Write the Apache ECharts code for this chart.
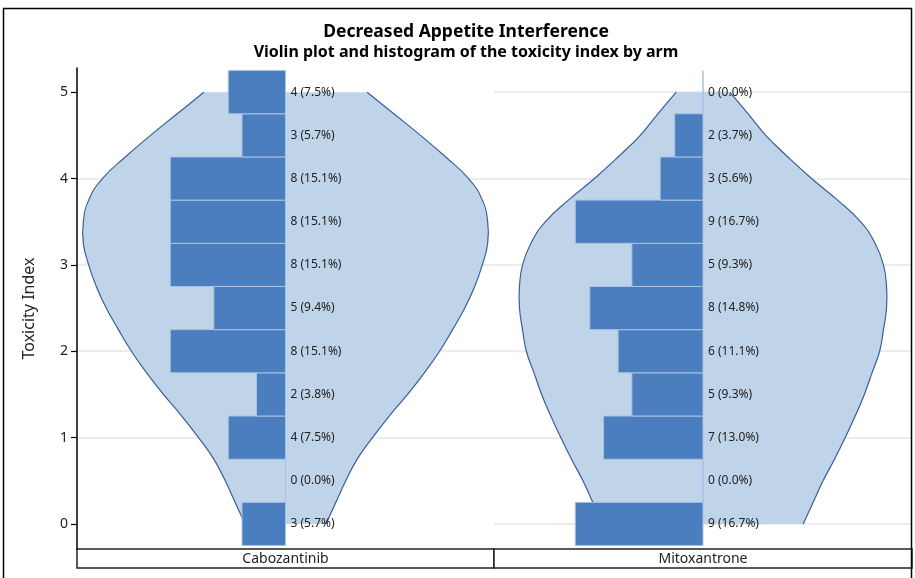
<!DOCTYPE html>
<html>
<head>
<meta charset="utf-8">
<title>Decreased Appetite Interference</title>
<script src="https://cdn.jsdelivr.net/npm/echarts@6/dist/echarts.min.js"></script>
<style>
    html,body{margin:0;padding:0;background:#fff;}
    #main{width:915px;height:578px;}
</style>
</head>
<body>
<div id="main"></div>
<script>
// histogram bins (toxicity index) and counts / percents per arm
var binLevels = [0, 0.5, 1, 1.5, 2, 2.5, 3, 3.5, 4, 4.5, 5];
var cabCounts = [3, 0, 4, 2, 8, 5, 8, 8, 8, 3, 4];
var cabPct    = [5.7, 0.0, 7.5, 3.8, 15.1, 9.4, 15.1, 15.1, 15.1, 5.7, 7.5];
var mitCounts = [9, 0, 7, 5, 6, 8, 5, 9, 3, 2, 0];
var mitPct    = [16.7, 0.0, 13.0, 9.3, 11.1, 14.8, 9.3, 16.7, 5.6, 3.7, 0.0];

// violin half-widths (same units as percent)
var violinLevels = [0, 0.25, 0.5, 0.75, 1, 1.25, 1.5, 1.75, 2, 2.25, 2.5, 2.75, 3, 3.25, 3.5, 3.75, 4, 4.25, 4.5, 4.75, 5];
var cabViolin = [5.3, 6.6, 7.9, 9.4, 11.4, 13.6, 16.0, 18.2, 20.2, 21.9, 23.5, 24.8, 25.8, 26.5, 26.5, 25.8, 24.0, 21.0, 17.7, 14.2, 10.7];
var mitViolin = [13.1, 14.4, 15.7, 17.2, 18.6, 19.9, 21.1, 22.1, 23.1, 23.6, 24.0, 24.0, 23.6, 22.5, 20.6, 17.6, 14.2, 11.1, 8.2, 5.9, 3.5];

var arms = ['Cabozantinib', 'Mitoxantrone'];
var yTicks = [0, 1, 2, 3, 4, 5];

var chart = echarts.init(document.getElementById('main'));

function violinRender(widths) {
    return function (params, api) {
        var right = [], left = [];
        for (var i = 0; i < violinLevels.length; i++) {
            right.push(api.coord([widths[i], violinLevels[i]]));
            left.push(api.coord([-widths[i], violinLevels[i]]));
        }
        var poly = right.concat(left.slice().reverse());
        var edge = {stroke: '#3a5d99', lineWidth: 1.2, fill: null};
        return {
            type: 'group',
            children: [
                {type: 'polygon', shape: {points: poly}, style: {fill: '#bfd3e9'}},
                {type: 'polyline', shape: {points: right, smooth: 0.45}, style: edge},
                {type: 'polyline', shape: {points: left, smooth: 0.45}, style: edge}
            ]
        };
    };
}

function barRender(params, api) {
    var pct = api.value(0), y = api.value(1), cnt = api.value(2);
    var p0 = api.coord([-pct, y + 0.25]);
    var p1 = api.coord([0, y - 0.25]);
    var c = api.coord([0, y]);
    return {
        type: 'group',
        children: [
            {
                type: 'rect',
                shape: {x: p0[0], y: p0[1], width: p1[0] - p0[0], height: p1[1] - p0[1]},
                style: {fill: '#4a7ebf', stroke: '#a9c2e4', lineWidth: 1}
            },
            {
                type: 'text',
                x: c[0] + 5, y: c[1],
                style: {
                    text: cnt + ' (' + pct.toFixed(1) + '%)',
                    fill: '#222', font: '12px "Noto Sans"',
                    verticalAlign: 'middle', align: 'left'
                }
            }
        ]
    };
}

function barData(pcts, counts) {
    return binLevels.map(function (y, i) { return [pcts[i], y, counts[i]]; });
}

var yBase = {
    type: 'value', min: -0.29, max: 5.28, splitNumber: 5,
    splitLine: {show: true, showMinLine: false, showMaxLine: false, lineStyle: {color: '#e6e6e6', width: 1.5}}
};

var option = {
    backgroundColor: '#fff',
    animation: false,
    grid: [
        {left: 77, width: 417, top: 68, bottom: 29},
        {left: 494, width: 418, top: 68, bottom: 29}
    ],
    xAxis: [
        {gridIndex: 0, type: 'value', min: -27.33, max: 27.33, show: false},
        {gridIndex: 1, type: 'value', min: -27.33, max: 27.33, show: false}
    ],
    yAxis: [
        Object.assign({}, yBase, {
            gridIndex: 0,
            name: 'Toxicity Index', nameLocation: 'middle', nameGap: 40,
            nameTextStyle: {fontSize: 16, color: '#222', fontFamily: 'Noto Sans'},
            axisLine: {show: true, onZero: false, lineStyle: {color: '#000', width: 1.5}},
            axisTick: {show: true, customValues: yTicks, length: 6, lineStyle: {color: '#000', width: 1.2}},
            axisLabel: {customValues: yTicks, fontSize: 14, color: '#222', margin: 9, fontFamily: 'Noto Sans'}
        }),
        Object.assign({}, yBase, {
            gridIndex: 1,
            axisLine: {show: false, onZero: false}, axisTick: {show: false}, axisLabel: {show: false}
        })
    ],
    series: [
        {type: 'custom', xAxisIndex: 0, yAxisIndex: 0, data: [[0, 0]], renderItem: violinRender(cabViolin), z: 1, silent: true},
        {type: 'custom', xAxisIndex: 1, yAxisIndex: 1, data: [[0, 0]], renderItem: violinRender(mitViolin), z: 1, silent: true},
        {type: 'custom', xAxisIndex: 0, yAxisIndex: 0, data: barData(cabPct, cabCounts), renderItem: barRender, z: 2},
        {type: 'custom', xAxisIndex: 1, yAxisIndex: 1, data: barData(mitPct, mitCounts), renderItem: barRender, z: 2}
    ],
    graphic: [
        {type: 'rect', shape: {x: 3.5, y: 8.5, width: 908, height: 590}, style: {fill: null, stroke: '#000', lineWidth: 1.5}, z: 100},
        {type: 'text', x: 466, y: 32, style: {text: 'Decreased Appetite Interference', font: 'bold 17.5px "Noto Sans"', fill: '#000', align: 'center', verticalAlign: 'middle'}},
        {type: 'text', x: 466, y: 52, style: {text: 'Violin plot and histogram of the toxicity index by arm', font: 'bold 16px "Noto Sans"', fill: '#000', align: 'center', verticalAlign: 'middle'}},
        {type: 'rect', shape: {x: 77, y: 549, width: 417, height: 19}, style: {fill: '#fff', stroke: '#222', lineWidth: 1.5}},
        {type: 'rect', shape: {x: 494, y: 549, width: 418, height: 19}, style: {fill: '#fff', stroke: '#222', lineWidth: 1.5}},
        {type: 'text', x: 285.5, y: 559, style: {text: arms[0], font: '14px "Noto Sans"', fill: '#222', align: 'center', verticalAlign: 'middle'}},
        {type: 'text', x: 703, y: 559, style: {text: arms[1], font: '14px "Noto Sans"', fill: '#222', align: 'center', verticalAlign: 'middle'}}
    ]
};

chart.setOption(option);
</script>
</body>
</html>
